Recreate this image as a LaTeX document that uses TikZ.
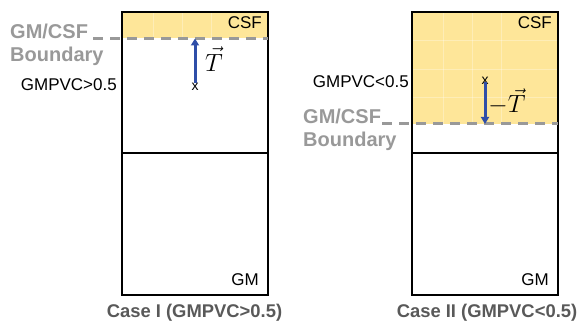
\documentclass[tikz,border=0pt]{standalone}
\usepackage{fontspec}
\setmainfont{Liberation Sans}
\usetikzlibrary{arrows.meta}
\definecolor{csffill}{RGB}{254,230,153}
\definecolor{bndgray}{RGB}{153,153,153}
\definecolor{vecblue}{RGB}{47,78,168}
\definecolor{capgray}{RGB}{89,89,89}
\tikzset{
  tissue/.style={draw=black,line width=2pt},
  divider/.style={draw=black,line width=2.2pt},
  boundary/.style={draw=bndgray,line width=3pt,dash pattern=on 10pt off 7pt},
  bndlabel/.style={text=bndgray,font=\fontsize{20}{23}\selectfont\bfseries,align=left,inner sep=0pt},
  regionlabel/.style={font=\fontsize{17}{20}\selectfont,inner sep=0pt},
  caselabel/.style={text=capgray,font=\fontsize{18.4}{22}\selectfont\bfseries,inner sep=0pt},
  vecarrow/.style={draw=vecblue,line width=3pt,-{Triangle[length=7pt,width=8pt]}},
  voxel/.style={font=\fontsize{14}{15}\selectfont,inner sep=0pt},
  veclabel/.style={font=\fontsize{23}{26}\selectfont,inner sep=0pt},
  gridline/.style={draw=white,line width=0.8pt,opacity=0.3}
}
\begin{document}
\begin{tikzpicture}[x=1pt,y=-1pt]
\useasboundingbox (0,0) rectangle (579,323);

% ---------- Case I ----------
\fill[csffill] (122,12) rectangle (268,38.5);
\foreach \gx in {153,182,211} \draw[gridline] (\gx,12) -- (\gx,38.5);
\draw[tissue] (122,12) rectangle (268,295);
\draw[divider] (122,153) -- (268,153);
\node[regionlabel,anchor=north east] (csfA) at (262,16) {CSF};
\node[regionlabel,anchor=south east] (gmA) at (259,286) {GM};
\coordinate (bndAstart) at (93,38.5);
\coordinate (bndAend) at (268,38.5);
\draw[boundary] (bndAstart) -- (bndAend);
\node[bndlabel,anchor=west] (bndA) at (10,45) {GM/CSF\\Boundary};
\node[regionlabel,anchor=east] (pvcA) at (117,85) {GMPVC>0.5};
\node[voxel] (xA) at (195,87) {x};
\coordinate (tipA) at (195,38.5);
\draw[vecarrow] (195,83) -- (tipA);
\node[veclabel] (tA) at (214,59) {$\vec{T}$};
\node[caselabel] (caseA) at (194.5,313) {Case I (GMPVC>0.5)};

% ---------- Case II ----------
\fill[csffill] (412,12) rectangle (558,124);
\foreach \gx in {443,472,501} \draw[gridline] (\gx,12) -- (\gx,124);
\foreach \gy in {40,69,97} \draw[gridline] (412,\gy) -- (558,\gy);
\draw[tissue] (412,12) rectangle (558,295);
\draw[divider] (412,153) -- (558,153);
\node[regionlabel,anchor=north east] (csfB) at (552,16) {CSF};
\node[regionlabel,anchor=south east] (gmB) at (549,286) {GM};
\coordinate (bndBstart) at (382,124);
\coordinate (bndBend) at (558,124);
\draw[boundary] (bndBstart) -- (bndBend);
\node[bndlabel,anchor=west] (bndB) at (303,130) {GM/CSF\\Boundary};
\node[regionlabel,anchor=east] (pvcB) at (409,82) {GMPVC<0.5};
\node[voxel] (xB) at (485,81) {x};
\coordinate (tipB) at (485,124);
\draw[vecarrow] (485,82) -- (tipB);
\node[veclabel] (tB) at (507,102) {$-\vec{T}$};
\node[caselabel] (caseB) at (487,313) {Case II (GMPVC<0.5)};
\end{tikzpicture}
\end{document}
